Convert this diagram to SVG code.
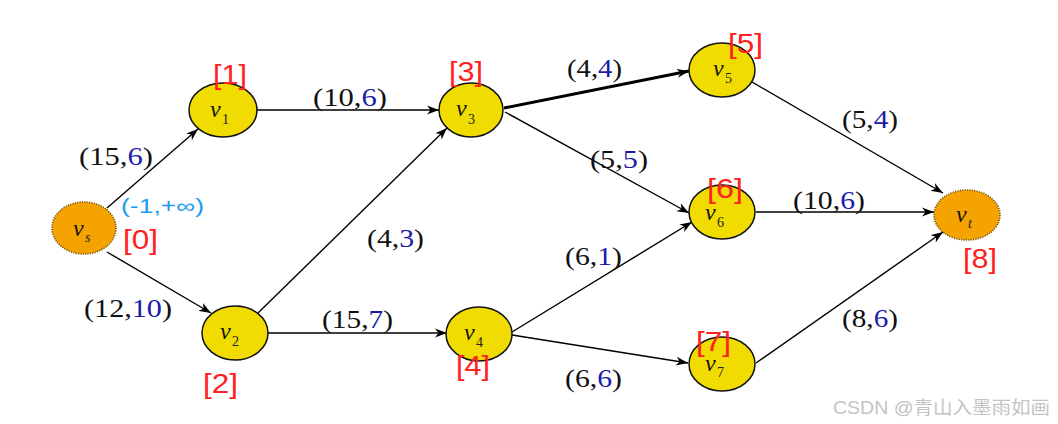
<svg xmlns="http://www.w3.org/2000/svg" width="1058" height="424" viewBox="0 0 1058 424">
<defs>
<marker id="arr" markerUnits="userSpaceOnUse" markerWidth="14" markerHeight="10" refX="12" refY="5" orient="auto">
<path d="M0,0.5 L12,5 L0,9.5 L3.5,5 z" fill="#000"/>
</marker>
<style>
.bg{fill:#fff}
.edge{stroke:#000;stroke-width:1.4;fill:none;marker-end:url(#arr)}
.thick{stroke-width:3}
.node{fill:#f0dc00;stroke:#111;stroke-width:1.5}
.end{fill:#f4a300;stroke:#7a5000;stroke-width:1.6;stroke-dasharray:1.2 1.2}
.vl{font-family:"Liberation Serif",serif;font-style:italic;font-size:24px;fill:#111}
.vs{font-family:"Liberation Serif",serif;font-style:italic;font-size:14px;fill:#222}
.sub{font-family:"Liberation Serif",serif;font-size:14px;fill:#222}
.cap{font-family:"Liberation Serif",serif;font-size:26px;fill:#111}
.b{fill:#1c1ca8}
.idx{font-family:"Liberation Sans",Arial,sans-serif;font-size:28px;fill:#ff2020}
.inf{font-family:"Liberation Sans",Arial,sans-serif;font-size:20px;fill:#1e9bf0}
.wm{font-family:"Liberation Sans","Noto Sans CJK SC",sans-serif;font-size:18px;fill:#c4c4c4}
</style>
</defs>
<rect class="bg" x="0" y="0" width="1058" height="424"/>
<g id="connectors">
<line class="edge" x1="107" y1="208" x2="198" y2="129"/>
<line class="edge" x1="107" y1="252" x2="211" y2="313"/>
<line class="edge" x1="257" y1="110" x2="439" y2="110"/>
<line class="edge" x1="258" y1="313" x2="447" y2="128"/>
<line class="edge" x1="268" y1="333" x2="447" y2="333"/>
<line class="edge thick" x1="504" y1="108" x2="689" y2="71"/>
<line class="edge" x1="505" y1="112" x2="689" y2="213"/>
<line class="edge" x1="512" y1="332" x2="692" y2="222"/>
<line class="edge" x1="512" y1="335" x2="688" y2="363"/>
<line class="edge" x1="752" y1="82" x2="943" y2="193"/>
<line class="edge" x1="756" y1="212" x2="934" y2="212"/>
<line class="edge" x1="756" y1="363" x2="943" y2="232"/>
</g>
<g id="edge-labels">
<text class="cap" x="79" y="165" textLength="74" lengthAdjust="spacingAndGlyphs">(15,<tspan class="b">6</tspan>)</text>
<text class="cap" x="84" y="317" textLength="88" lengthAdjust="spacingAndGlyphs">(12,<tspan class="b">10</tspan>)</text>
<text class="cap" x="313" y="106" textLength="74" lengthAdjust="spacingAndGlyphs">(10,<tspan class="b">6</tspan>)</text>
<text class="cap" x="367" y="247" textLength="57" lengthAdjust="spacingAndGlyphs">(4,<tspan class="b">3</tspan>)</text>
<text class="cap" x="322" y="328" textLength="71" lengthAdjust="spacingAndGlyphs">(15,<tspan class="b">7</tspan>)</text>
<text class="cap" x="567" y="77" textLength="55" lengthAdjust="spacingAndGlyphs">(4,<tspan class="b">4</tspan>)</text>
<text class="cap" x="590" y="168" textLength="58" lengthAdjust="spacingAndGlyphs">(5,<tspan class="b">5</tspan>)</text>
<text class="cap" x="565" y="265" textLength="57" lengthAdjust="spacingAndGlyphs">(6,<tspan class="b">1</tspan>)</text>
<text class="cap" x="565" y="387" textLength="57" lengthAdjust="spacingAndGlyphs">(6,<tspan class="b">6</tspan>)</text>
<text class="cap" x="793" y="209" textLength="72" lengthAdjust="spacingAndGlyphs">(10,<tspan class="b">6</tspan>)</text>
<text class="cap" x="842" y="128" textLength="56" lengthAdjust="spacingAndGlyphs">(5,<tspan class="b">4</tspan>)</text>
<text class="cap" x="842" y="327" textLength="56" lengthAdjust="spacingAndGlyphs">(8,<tspan class="b">6</tspan>)</text>
</g>
<g id="vs">
<ellipse class="end" cx="84" cy="228" rx="32" ry="26"/>
<text class="vl" x="73" y="236">v</text><text class="vs" x="85" y="242">s</text>
<text class="inf" x="121" y="213" textLength="83" lengthAdjust="spacingAndGlyphs">(-1,+∞)</text>
<text class="idx" x="123" y="249" textLength="35" lengthAdjust="spacingAndGlyphs">[0]</text>
</g>
<g id="v1">
<ellipse class="node" cx="223" cy="110" rx="34" ry="27"/>
<text class="vl" x="210" y="117">v</text><text class="sub" x="222" y="124">1</text>
<text class="idx" x="213" y="84" textLength="34" lengthAdjust="spacingAndGlyphs">[1]</text>
</g>
<g id="v2">
<ellipse class="node" cx="235" cy="333" rx="33" ry="27"/>
<text class="vl" x="220" y="339">v</text><text class="sub" x="232" y="346">2</text>
<text class="idx" x="203" y="393" textLength="35" lengthAdjust="spacingAndGlyphs">[2]</text>
</g>
<g id="v3">
<ellipse class="node" cx="471" cy="110" rx="32" ry="27"/>
<text class="vl" x="456" y="116">v</text><text class="sub" x="468" y="124">3</text>
<text class="idx" x="449" y="81" textLength="34" lengthAdjust="spacingAndGlyphs">[3]</text>
</g>
<g id="v4">
<ellipse class="node" cx="479" cy="334" rx="33" ry="27"/>
<text class="vl" x="464" y="340">v</text><text class="sub" x="476" y="347">4</text>
<text class="idx" x="456" y="375" textLength="34" lengthAdjust="spacingAndGlyphs">[4]</text>
</g>
<g id="v5">
<ellipse class="node" cx="722" cy="70" rx="33" ry="27"/>
<text class="vl" x="713" y="76">v</text><text class="sub" x="725" y="83">5</text>
<text class="idx" x="728" y="53" textLength="35" lengthAdjust="spacingAndGlyphs">[5]</text>
</g>
<g id="v6">
<ellipse class="node" cx="722" cy="212" rx="33" ry="27"/>
<text class="vl" x="705" y="220">v</text><text class="sub" x="717" y="227">6</text>
<text class="idx" x="707" y="198" textLength="36" lengthAdjust="spacingAndGlyphs">[6]</text>
</g>
<g id="v7">
<ellipse class="node" cx="722" cy="364" rx="33" ry="27"/>
<text class="vl" x="705" y="371">v</text><text class="sub" x="717" y="377">7</text>
<text class="idx" x="696" y="351" textLength="35" lengthAdjust="spacingAndGlyphs">[7]</text>
</g>
<g id="vt">
<ellipse class="end" cx="967" cy="215" rx="33" ry="25"/>
<text class="vl" x="956" y="222">v</text><text class="vs" x="968" y="228">t</text>
<text class="idx" x="963" y="268" textLength="34" lengthAdjust="spacingAndGlyphs">[8]</text>
</g>
<text class="wm" x="833" y="414" textLength="217" lengthAdjust="spacingAndGlyphs">CSDN @青山入墨雨如画</text>
</svg>
